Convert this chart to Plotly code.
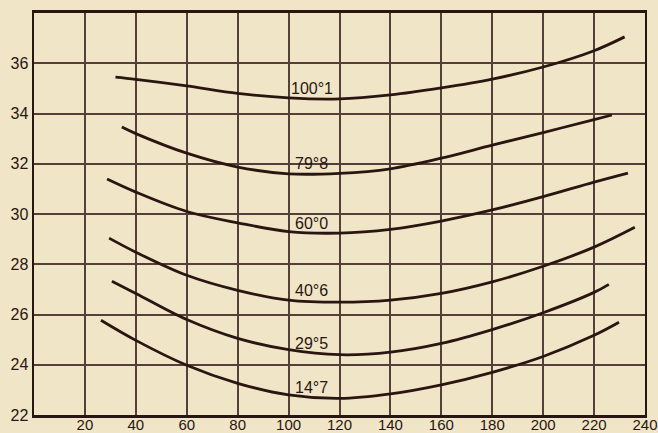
import plotly.graph_objects as go

x_100_1 = [32, 40, 60, 80, 100, 120, 140, 160, 180, 200, 220, 232]
y_100_1 = [35.45, 35.36, 35.1, 34.8, 34.62, 34.58, 34.74, 35.02, 35.37, 35.85, 36.5, 37.05]

x_79_8 = [34.5, 40, 60, 80, 100, 120, 140, 160, 180, 200, 220, 227]
y_79_8 = [33.46, 33.2, 32.42, 31.87, 31.6, 31.62, 31.8, 32.22, 32.74, 33.24, 33.76, 33.94]

x_60_0 = [28.7, 40, 60, 80, 100, 120, 140, 160, 180, 200, 220, 233.3]
y_60_0 = [31.39, 30.87, 30.1, 29.65, 29.3, 29.24, 29.39, 29.72, 30.16, 30.69, 31.27, 31.63]

x_40_6 = [29.5, 40, 60, 80, 100, 120, 140, 160, 180, 200, 220, 236]
y_40_6 = [29.04, 28.48, 27.56, 26.96, 26.57, 26.49, 26.57, 26.84, 27.3, 27.92, 28.68, 29.47]

x_29_5 = [30.6, 40, 60, 80, 100, 120, 140, 160, 180, 200, 220, 225.8]
y_29_5 = [27.32, 26.84, 25.8, 25.05, 24.6, 24.4, 24.5, 24.85, 25.4, 26.07, 26.88, 27.2]

x_14_7 = [26.3, 40, 60, 80, 100, 120, 140, 160, 180, 200, 220, 229.8]
y_14_7 = [25.77, 24.97, 23.98, 23.26, 22.8, 22.66, 22.84, 23.2, 23.7, 24.33, 25.17, 25.69]

curve_labels = ["100°1", "79°8", "60°0", "40°6", "29°5", "14°7"]
label_x = [109, 109, 109, 109, 109, 109]
label_y = [35.01, 32.02, 29.63, 26.96, 24.85, 23.1]

x_ticks = [20, 40, 60, 80, 100, 120, 140, 160, 180, 200, 220, 240]
y_ticks = [22, 24, 26, 28, 30, 32, 34, 36]

INK = "#2a1611"
GRID = "#554039"
PAPER = "#f0e5c6"
FONT = "Liberation Sans"

series = [(x_100_1, y_100_1), (x_79_8, y_79_8), (x_60_0, y_60_0),
          (x_40_6, y_40_6), (x_29_5, y_29_5), (x_14_7, y_14_7)]

fig = go.Figure()
for (xs, ys), name in zip(series, curve_labels):
    fig.add_trace(go.Scatter(x=xs, y=ys, mode="lines", name=name,
                             line=dict(color=INK, width=2.8, shape="spline", smoothing=1.0),
                             showlegend=False, hoverinfo="skip"))

for t, lx, ly in zip(curve_labels, label_x, label_y):
    fig.add_annotation(x=lx, y=ly, text=t, showarrow=False,
                       font=dict(family=FONT, size=16, color=INK),
                       xanchor="center", yanchor="middle")

fig.update_layout(
    width=658, height=433,
    margin=dict(l=34, r=13, t=13, b=18, autoexpand=False),
    paper_bgcolor=PAPER, plot_bgcolor=PAPER,
    font=dict(family=FONT, size=16, color=INK),
)
fig.update_xaxes(range=[0, 240], tickvals=x_ticks, ticktext=[str(v) for v in x_ticks],
                 showgrid=True, gridcolor=GRID, gridwidth=2, automargin=False,
                 showline=True, linecolor=INK, linewidth=3, mirror=True,
                 zeroline=False, ticks="", ticklabelstandoff=-6,
                 tickfont=dict(family=FONT, size=15, color=INK))
fig.update_yaxes(range=[22, 38], tickvals=y_ticks, ticktext=[str(v) for v in y_ticks],
                 showgrid=True, gridcolor=GRID, gridwidth=2, automargin=False,
                 showline=True, linecolor=INK, linewidth=2.4, mirror=True,
                 zeroline=False, ticks="", tickfont=dict(family=FONT, size=16, color=INK))

fig.write_html(
    "out.html",
    config={"displayModeBar": False, "staticPlot": True},
    post_script="document.body.style.margin='0';document.body.style.background='%s';" % PAPER,
)
